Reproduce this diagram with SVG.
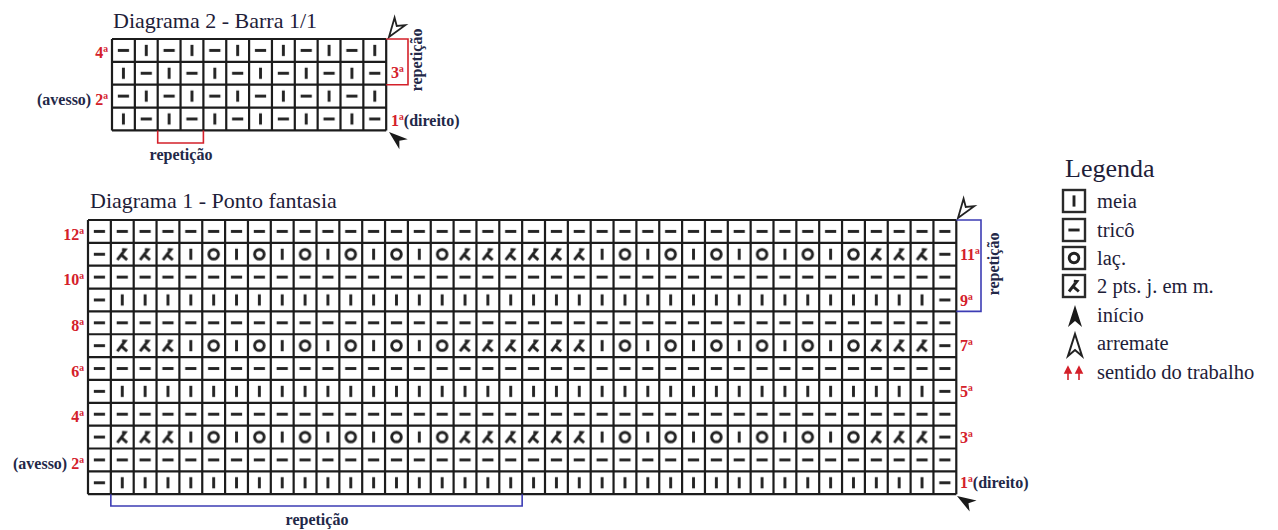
<svg xmlns="http://www.w3.org/2000/svg" width="1278" height="530" viewBox="0 0 1278 530">
<style>
.sym{stroke:#222;stroke-width:2.9;fill:none;stroke-linecap:butt}
.grid{stroke:#1c1c1c;stroke-width:2.2;fill:none}
.ser{font-family:"Liberation Serif","Times New Roman",Tinos,"DejaVu Serif","Noto Serif",serif}
.title{font-size:22px;fill:#1e2038}
.lab{font-size:16px;font-weight:bold}
.red{fill:#d4202a}
.navy{fill:#232848}
.leg{font-size:20.5px;fill:#1e2038}
.brR{stroke:#d4202a;stroke-width:1.6;fill:none}
.brB{stroke:#3c3cb4;stroke-width:1.6;fill:none}
.box{stroke:#2a2a2a;stroke-width:2.4;fill:#fff}
</style>
<defs>
<g id="dash"><line class="sym" x1="-5.6" y1="0" x2="5.6" y2="0"/></g>
<g id="bar"><line class="sym" x1="0" y1="-5.6" x2="0" y2="5.6"/></g>
<g id="ring"><circle class="sym" cx="0" cy="0" r="4.8" stroke-width="2.3"/></g>
<g id="k2"><path class="sym" stroke-width="2.5" d="M-5 5.5 L2.8 -4.5 L-0.2 -4.8 M-1 0.4 L4.8 5.5"/></g>
<pattern id="pD" patternUnits="userSpaceOnUse" x="88" y="220" width="22.85" height="22.85"><use href="#dash" x="11.425" y="11.425"/></pattern>
<pattern id="pB" patternUnits="userSpaceOnUse" x="88" y="220" width="22.85" height="22.85"><use href="#bar" x="11.425" y="11.425"/></pattern>
<pattern id="pK" patternUnits="userSpaceOnUse" x="88" y="220" width="22.85" height="22.85"><use href="#k2" x="11.425" y="11.425"/></pattern>
<pattern id="pIO" patternUnits="userSpaceOnUse" x="88" y="220" width="45.7" height="22.85"><use href="#bar" x="11.425" y="11.425"/><use href="#ring" x="34.275" y="11.425"/></pattern>
<pattern id="pChk" patternUnits="userSpaceOnUse" x="112" y="39" width="45.7" height="45.7"><use href="#dash" x="11.425" y="11.425"/><use href="#bar" x="34.275" y="11.425"/><use href="#bar" x="11.425" y="34.275"/><use href="#dash" x="34.275" y="34.275"/></pattern>
<path id="arr" d="M0 0 L6.5 19 L0 13.5 L-6.5 19 Z"/>
</defs>
<rect width="1278" height="530" fill="#fff"/>

<g id="diagram2" class="ser">
<text class="title" x="113" y="28">Diagrama 2 - Barra 1/1</text>
<rect x="112" y="39" width="274.2" height="91.4" fill="url(#pChk)"/>
<path class="grid" d="M112 39V130.4M134.85 39V130.4M157.7 39V130.4M180.55 39V130.4M203.4 39V130.4M226.25 39V130.4M249.1 39V130.4M271.95 39V130.4M294.8 39V130.4M317.65 39V130.4M340.5 39V130.4M363.35 39V130.4M386.2 39V130.4M112 39H386.2M112 61.85H386.2M112 84.7H386.2M112 107.55H386.2M112 130.4H386.2"/>
<text class="lab red" x="108" y="58" text-anchor="end">4ª</text>
<text class="lab" x="108" y="104.5" text-anchor="end"><tspan class="navy">(avesso) </tspan><tspan class="red">2ª</tspan></text>
<text class="lab red" x="391" y="78">3ª</text>
<text class="lab" x="391" y="125.5"><tspan class="red">1ª</tspan><tspan class="navy">(direito)</tspan></text>
<text class="lab navy" x="181" y="160" text-anchor="middle">repetição</text>
<text class="lab navy" transform="translate(422 60) rotate(-90)" text-anchor="middle">repetição</text>
</g>

<g id="diagram1" class="ser">
<text class="title" x="90" y="208">Diagrama 1 - Ponto fantasia</text>
<rect x="88" y="220" width="22.85" height="274.2" fill="url(#pD)"/>
<rect x="933.45" y="220" width="22.85" height="274.2" fill="url(#pD)"/>
<g fill="url(#pD)">
<rect x="110.85" y="220" width="822.6" height="22.85"/>
<rect x="110.85" y="265.7" width="822.6" height="22.85"/>
<rect x="110.85" y="311.4" width="822.6" height="22.85"/>
<rect x="110.85" y="357.1" width="822.6" height="22.85"/>
<rect x="110.85" y="402.8" width="822.6" height="22.85"/>
<rect x="110.85" y="448.5" width="822.6" height="22.85"/>
</g>
<g fill="url(#pB)">
<rect x="110.85" y="288.55" width="822.6" height="22.85"/>
<rect x="110.85" y="379.95" width="822.6" height="22.85"/>
<rect x="110.85" y="471.35" width="822.6" height="22.85"/>
</g>
<g fill="url(#pK)">
<rect x="110.85" y="242.85" width="68.55" height="22.85"/>
<rect x="453.6" y="242.85" width="137.1" height="22.85"/>
<rect x="864.9" y="242.85" width="68.55" height="22.85"/>
<rect x="110.85" y="334.25" width="68.55" height="22.85"/>
<rect x="453.6" y="334.25" width="137.1" height="22.85"/>
<rect x="864.9" y="334.25" width="68.55" height="22.85"/>
<rect x="110.85" y="425.65" width="68.55" height="22.85"/>
<rect x="453.6" y="425.65" width="137.1" height="22.85"/>
<rect x="864.9" y="425.65" width="68.55" height="22.85"/>
</g>
<g fill="url(#pIO)">
<rect x="179.4" y="242.85" width="274.2" height="22.85"/>
<rect x="590.7" y="242.85" width="274.2" height="22.85"/>
<rect x="179.4" y="334.25" width="274.2" height="22.85"/>
<rect x="590.7" y="334.25" width="274.2" height="22.85"/>
<rect x="179.4" y="425.65" width="274.2" height="22.85"/>
<rect x="590.7" y="425.65" width="274.2" height="22.85"/>
</g>
<path class="grid" d="M88 220V494.2M110.85 220V494.2M133.7 220V494.2M156.55 220V494.2M179.4 220V494.2M202.25 220V494.2M225.1 220V494.2M247.95 220V494.2M270.8 220V494.2M293.65 220V494.2M316.5 220V494.2M339.35 220V494.2M362.2 220V494.2M385.05 220V494.2M407.9 220V494.2M430.75 220V494.2M453.6 220V494.2M476.45 220V494.2M499.3 220V494.2M522.15 220V494.2M545 220V494.2M567.85 220V494.2M590.7 220V494.2M613.55 220V494.2M636.4 220V494.2M659.25 220V494.2M682.1 220V494.2M704.95 220V494.2M727.8 220V494.2M750.65 220V494.2M773.5 220V494.2M796.35 220V494.2M819.2 220V494.2M842.05 220V494.2M864.9 220V494.2M887.75 220V494.2M910.6 220V494.2M933.45 220V494.2M956.3 220V494.2M88 220H956.3M88 242.85H956.3M88 265.7H956.3M88 288.55H956.3M88 311.4H956.3M88 334.25H956.3M88 357.1H956.3M88 379.95H956.3M88 402.8H956.3M88 425.65H956.3M88 448.5H956.3M88 471.35H956.3M88 494.2H956.3"/>
<g class="lab red" text-anchor="end">
<text x="84" y="239.5">12ª</text>
<text x="84" y="285.2">10ª</text>
<text x="84" y="330.9">8ª</text>
<text x="84" y="376.6">6ª</text>
<text x="84" y="422.3">4ª</text>
</g>
<text class="lab" x="84" y="468.5" text-anchor="end"><tspan class="navy">(avesso) </tspan><tspan class="red">2ª</tspan></text>
<g class="lab red">
<text x="960" y="260">11ª</text>
<text x="960" y="305.5">9ª</text>
<text x="960" y="351.2">7ª</text>
<text x="960" y="396.9">5ª</text>
<text x="960" y="442.6">3ª</text>
</g>
<text class="lab" x="960" y="488"><tspan class="red">1ª</tspan><tspan class="navy">(direito)</tspan></text>
<text class="lab navy" x="317" y="525" text-anchor="middle">repetição</text>
<text class="lab navy" transform="translate(999 264) rotate(-90)" text-anchor="middle">repetição</text>
</g>

<g id="connectors">
<path class="brR" d="M386.2 39H408V84.7H386.2"/>
<path class="brR" d="M157.7 130.4V143H203.4V130.4"/>
<path class="brB" d="M956.3 220H981V311.4H956.3"/>
<path class="brB" d="M110.85 494.2V506H522.15V494.2"/>
<use href="#arr" transform="translate(389 37) rotate(215)" fill="#fff" stroke="#222" stroke-width="1.8"/>
<use href="#arr" transform="translate(389 132) rotate(-50)" fill="#1a1a1a"/>
<use href="#arr" transform="translate(958 218) rotate(215)" fill="#fff" stroke="#222" stroke-width="1.8"/>
<use href="#arr" transform="translate(957 496) rotate(-58)" fill="#1a1a1a"/>
</g>

<g id="legend" class="ser">
<text x="1065" y="177" font-size="26" fill="#1e2038">Legenda</text>
<g id="leg-meia"><rect class="box" x="1063" y="190" width="22" height="22"/><use href="#bar" x="1074" y="201"/><text class="leg" x="1097" y="208">meia</text></g>
<g id="leg-trico"><rect class="box" x="1063" y="219" width="22" height="22"/><use href="#dash" x="1074" y="230"/><text class="leg" x="1097" y="237">tricô</text></g>
<g id="leg-lac"><rect class="box" x="1063" y="247" width="22" height="22"/><use href="#ring" x="1074" y="258"/><text class="leg" x="1097" y="265">laç.</text></g>
<g id="leg-2pts"><rect class="box" x="1063" y="275" width="22" height="22"/><use href="#k2" x="1074" y="286"/><text class="leg" x="1097" y="293">2 pts. j. em m.</text></g>
<g id="leg-inicio"><path d="M1075 305 L1082 327 L1075 321 L1068 327 Z" fill="#1a1a1a"/><text class="leg" x="1097" y="322">início</text></g>
<g id="leg-arremate"><path d="M1075 334 L1082 356 L1075 350 L1068 356 Z" fill="#fff" stroke="#222" stroke-width="2"/><text class="leg" x="1097" y="350">arremate</text></g>
<g id="leg-sentido"><g stroke="#d4202a" stroke-width="1.6" fill="#d4202a"><line x1="1068" y1="372" x2="1068" y2="380"/><path d="M1068 367 L1071 373 L1065 373 Z"/><line x1="1079" y1="372" x2="1079" y2="380"/><path d="M1079 367 L1082 373 L1076 373 Z"/></g><text class="leg" x="1097" y="379">sentido do trabalho</text></g>
</g>
</svg>
